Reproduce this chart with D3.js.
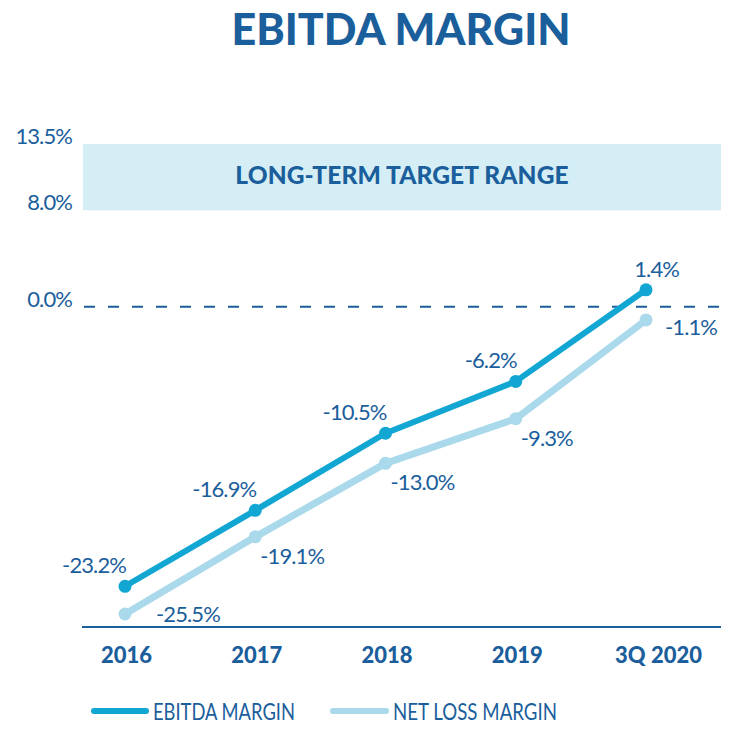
<!DOCTYPE html>
<html><head><meta charset="utf-8">
<script src="https://cdn.jsdelivr.net/npm/d3@7/dist/d3.min.js"></script>
<style>body{margin:0;background:#fff}svg{display:block}</style>
</head><body>
<svg id="c" width="741" height="739"></svg>
<script>
const categories = ["2016","2017","2018","2019","3Q 2020"];
const ebitdaMargin = [-23.2, -16.9, -10.5, -6.2, 1.4];
const netLossMargin = [-25.5, -19.1, -13.0, -9.3, -1.1];
const targetRange = [8.0, 13.5];
const yTickValues = [13.5, 8.0, 0.0];
const seriesNames = ["EBITDA MARGIN", "NET LOSS MARGIN"];

const DARK = "#1b5e9c", C1 = "#12a6d3", C2 = "#a9d9ea", BAND = "#d5eef6";
const FONT = "Lato, 'Open Sans', sans-serif";
const svg = d3.select("#c");

const x = d3.scalePoint().domain(categories).range([125, 646]);
const y = d3.scaleLinear().domain([-25.5, 13.5]).range([614, 144]);

// title
svg.append("text").attr("x", 401).attr("y", 45).attr("text-anchor","middle")
  .attr("font-family", FONT).attr("font-weight", 900).attr("font-size", 43)
  .attr("fill", DARK).text("EBITDA MARGIN");

// target band
svg.append("rect").attr("x", 83).attr("width", 721-83)
  .attr("y", y(targetRange[1])).attr("height", y(targetRange[0]) - y(targetRange[1]))
  .attr("fill", BAND);
svg.append("text").attr("x", 402).attr("y", 184).attr("text-anchor","middle")
  .attr("font-family", FONT).attr("font-weight", 900).attr("font-size", 24.5)
  .attr("letter-spacing", 0.1)
  .attr("fill", DARK).text("LONG-TERM TARGET RANGE");

// zero dashed line
svg.append("line").attr("x1", 84).attr("x2", 721).attr("y1", y(0)).attr("y2", y(0))
  .attr("stroke", DARK).attr("stroke-width", 2).attr("stroke-dasharray", "11 13");

const labelStyle = sel => sel.attr("font-family", FONT).attr("font-weight", 400)
  .attr("font-size", 22).attr("letter-spacing", -0.9).attr("fill", DARK);

// y tick labels
svg.selectAll(".yt").data(yTickValues).join("text")
  .attr("x", 72).attr("y", d => y(d)).attr("text-anchor","end")
  .call(labelStyle).text(d => d.toFixed(1) + "%");

// x axis
const xAxis = d3.axisBottom(x).tickSize(0).tickPadding(0);
const gx = svg.append("g").attr("transform", "translate(0,627)").call(xAxis);
gx.select(".domain").remove();
svg.append("line").attr("x1", 82).attr("x2", 721).attr("y1", 627).attr("y2", 627)
  .attr("stroke", DARK).attr("stroke-width", 2);
gx.selectAll(".tick text").attr("y", 36).attr("dy", 0)
  .attr("font-family", FONT).attr("font-weight", 900).attr("font-size", 22)
  .attr("fill", DARK)
  .attr("dx", d => d === "3Q 2020" ? 12 : 1);

// lines
const line = d3.line().x((d,i) => x(categories[i])).y(d => y(d));
svg.append("path").datum(netLossMargin).attr("d", line).attr("fill","none")
  .attr("stroke", C2).attr("stroke-width", 7).attr("stroke-linejoin","round");
svg.selectAll(".d2").data(netLossMargin).join("circle")
  .attr("cx", (d,i) => x(categories[i])).attr("cy", d => y(d)).attr("r", 6.5).attr("fill", C2);
svg.append("path").datum(ebitdaMargin).attr("d", line).attr("fill","none")
  .attr("stroke", C1).attr("stroke-width", 6).attr("stroke-linejoin","round");
svg.selectAll(".d1").data(ebitdaMargin).join("circle")
  .attr("cx", (d,i) => x(categories[i])).attr("cy", d => y(d)).attr("r", 6.5).attr("fill", C1);

const fmt = d => d.toFixed(1) + "%";
// value labels — EBITDA above-left, net loss below-right
svg.selectAll(".l1").data(ebitdaMargin).join("text")
  .attr("x", (d,i) => x(categories[i]) + (i === 4 ? 33 : 1))
  .attr("y", (d,i) => y(d) - 13)
  .attr("text-anchor", "end")
  .call(labelStyle).text(fmt);
svg.selectAll(".l2").data(netLossMargin).join("text")
  .attr("x", (d,i) => x(categories[i]) + (i === 0 ? 31 : i === 4 ? 19 : 5))
  .attr("y", (d,i) => y(d) + (i === 0 ? 8 : i === 4 ? 15 : 27))
  .attr("text-anchor", "start")
  .call(labelStyle).text(fmt);

// legend
const legend = [
  {name: seriesNames[0], color: C1, x1: 94, x2: 146, tx: 153, tw: 142},
  {name: seriesNames[1], color: C2, x1: 333, x2: 386, tx: 393, tw: 164}
];
legend.forEach(l => {
  svg.append("line").attr("x1", l.x1).attr("x2", l.x2).attr("y1", 711).attr("y2", 711)
    .attr("stroke", l.color).attr("stroke-width", 6).attr("stroke-linecap","round");
  svg.append("text").attr("x", l.tx).attr("y", 720)
    .attr("font-family", FONT).attr("font-weight", 400).attr("font-size", 24)
    .attr("textLength", l.tw).attr("lengthAdjust", "spacingAndGlyphs")
    .attr("fill", DARK).text(l.name);
});
</script>
</body></html>
